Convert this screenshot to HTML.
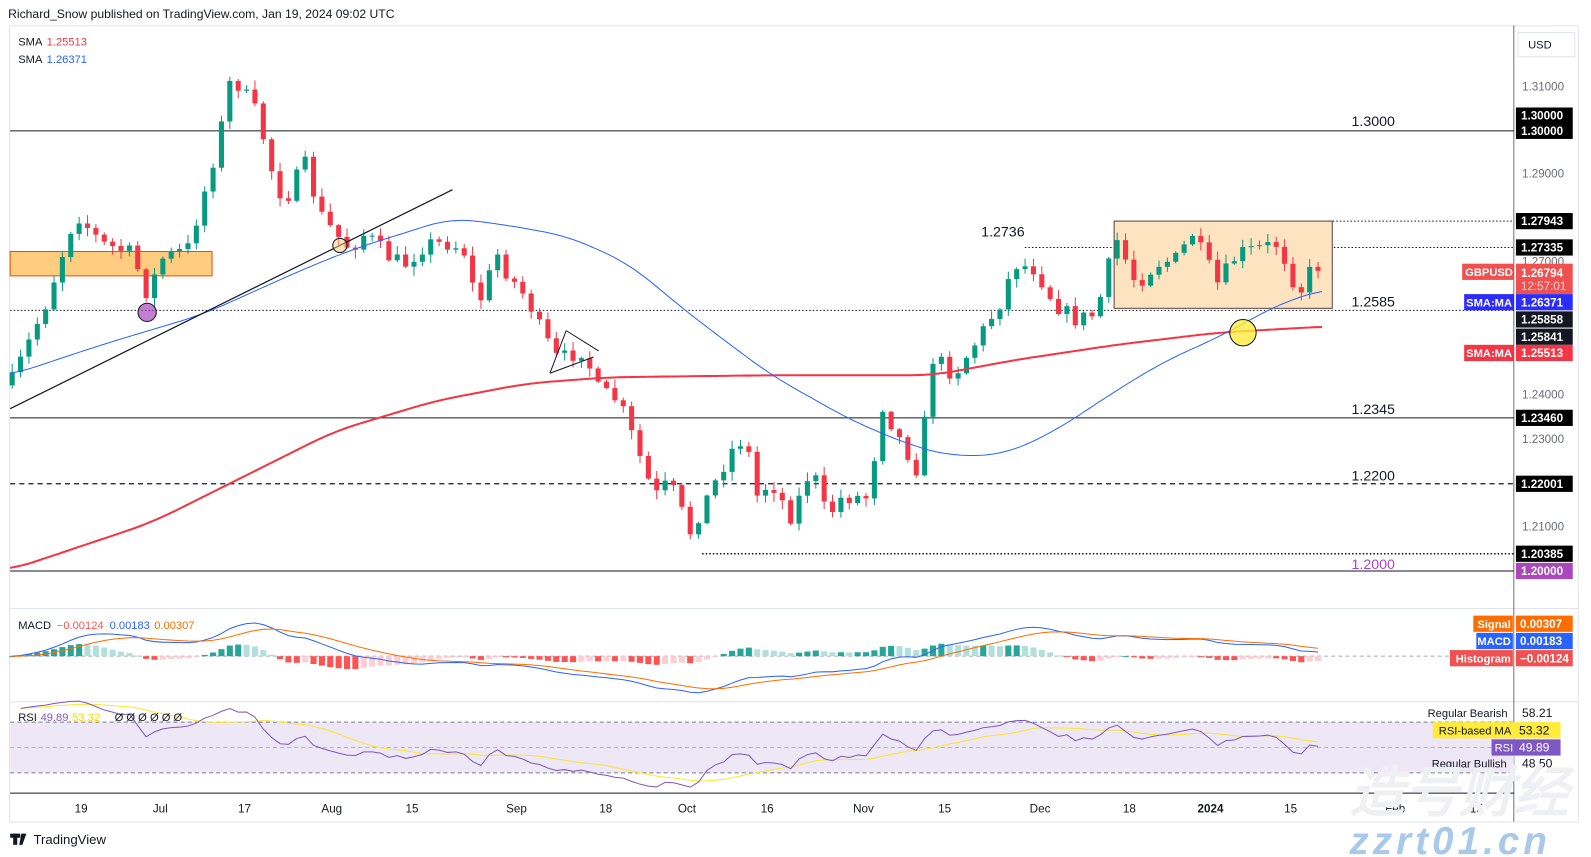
<!DOCTYPE html>
<html><head><meta charset="utf-8">
<style>
html,body{margin:0;padding:0;background:#fff;overflow:hidden}
#w{width:1568px;height:845px;transform:scale(1.01467,1.0142);transform-origin:0 0;position:relative;font-family:"Liberation Sans",sans-serif}
svg text{font-family:"Liberation Sans",sans-serif}
</style></head><body>
<div id="w">
<svg id="s" width="1568" height="845" xmlns="http://www.w3.org/2000/svg"></svg>
</div>
<script>
const S=document.getElementById('s');let h='';
function add(t){h+=t;}
function ln(x1,y1,x2,y2,c,w,d){add(`<line x1="${x1}" y1="${y1}" x2="${x2}" y2="${y2}" stroke="${c}" stroke-width="${w||1}" ${d?`stroke-dasharray="${d}"`:''}/>`);}
function tx(x,y,t,c,sz,anc,wt){add(`<text x="${x}" y="${y}" fill="${c}" font-size="${sz||12}" ${anc?`text-anchor="${anc}"`:''} ${wt?`font-weight="${wt}"`:''}>${t}</text>`);}
function rc(x,y,w,hh,f,st){add(`<rect x="${x}" y="${y}" width="${w}" height="${hh}" fill="${f}" ${st?`stroke="${st}"`:''}/>`);}
function interp(pts,x){if(x<=pts[0][0])return pts[0][1];for(let i=1;i<pts.length;i++){if(x<=pts[i][0]){const a=pts[i-1],b=pts[i];return a[1]+(b[1]-a[1])*(x-a[0])/(b[0]-a[0]);}}return pts[pts.length-1][1];}
function poly(pts,c,w){add(`<polyline fill="none" stroke="${c}" stroke-width="${w}" points="${pts.map(p=>p[0].toFixed(1)+','+p[1].toFixed(1)).join(' ')}"/>`);}
function smooth(pts){const o=[];for(let x=pts[0][0];x<=pts[pts.length-1][0];x+=3){let s=0,n=0;for(let d=-24;d<=24;d+=3){const xx=Math.min(Math.max(x+d,pts[0][0]),pts[pts.length-1][0]);s+=interp(pts,xx);n++;}o.push([x,s/n]);}return o;}
tx(8,18,'Richard_Snow published on TradingView.com, Jan 19, 2024 09:02 UTC','#131722',12);
rc(9.5,25.5,1546,785,'none','#e0e3eb');
ln(10,600,1555,600,'#e0e3eb');ln(10,692,1555,692,'#e0e3eb');ln(10,782,1492,782,'#131722');
ln(1492,25,1492,810,'#131722',0.6);
rc(1496,32,56,24,'#fff','#e0e3eb');tx(1506,48,'USD','#131722',11);
[[85,'1.31000'],[171,'1.29000'],[258,'1.27000'],[389,'1.24000'],[433,'1.23000'],[519,'1.21000']].forEach(a=>tx(1500,a[0]+4,a[1],'#6a6d78',11.5));
ln(10,129,1492,129,'#131722',1);
ln(1310,218,1492,218,'#131722',1,'1.5 2');
ln(1010,244,1492,244,'#131722',1,'1.5 2');
ln(10,306,1492,306,'#131722',1,'1.5 2');
ln(10,412,1492,412,'#131722',1);
ln(10,477,1492,477,'#131722',1.2,'5 4');
ln(692,546,1492,546,'#131722',1.5,'1.5 2');
ln(10,563,1492,563,'#131722',1);
tx(1332,124,'1.3000','#131722',14);
tx(967,233,'1.2736','#131722',14);
tx(1332,302,'1.2585','#131722',14);
tx(1332,408,'1.2345','#131722',14);
tx(1332,474,'1.2200','#131722',14);
tx(1332,561,'1.2000','#ab47bc',14);
rc(10,248,199,24,'#ffcc80','#e65100');
rc(1098,218,215,86,'#fde3c0','#5d4037');
const path=[[12,375],[45,300],[75,210],[100,240],[130,250],[145,290],[160,255],[185,245],[200,195],[215,140],[228,75],[240,90],[255,115],[265,160],[280,200],[300,160],[315,210],[330,230],[345,245],[360,230],[385,255],[400,260],[420,240],[445,240],[460,250],[470,305],[490,250],[500,270],[520,295],[535,330],[550,355],[575,345],[590,385],[610,395],[625,435],[645,490],[660,475],[680,525],[700,485],[720,445],[735,430],[745,490],[760,475],[780,510],[800,460],[815,510],[830,490],[855,490],[870,400],[885,430],[905,465],[920,350],[940,370],[960,340],[985,300],[1000,260],[1020,265],[1040,300],[1060,315],[1080,310],[1100,235],[1120,280],[1140,260],[1160,255],[1175,230],[1200,280],[1220,250],[1240,245],[1260,240],[1280,290],[1295,260],[1305,265]];
let seed=7;function rnd(){seed=(seed*16807)%2147483647;return seed/2147483647;}
let prev=380,closes=[];
for(let i=0;;i++){const x=12+i*8.25;if(x>1306)break;let c=interp(path,x)+(rnd()-0.5)*16;if(x>1300)c=265;
 const o=prev;const hi=Math.min(o,c)-rnd()*8-1,lo=Math.max(o,c)+rnd()*8+1;const col=c<o?'#089981':'#f23645';
 ln(x,hi,x,lo,col,1);rc(x-2.5,Math.min(o,c),5,Math.max(1,Math.abs(c-o)),col);prev=c;closes.push([x,c]);}
poly(smooth([[10,562],[150,515],[230,475],[330,425],[430,395],[520,378],[600,372],[760,370],[920,370],[1000,355],[1100,340],[1200,328],[1305,322]]),'#f23645',2);
poly(smooth([[10,370],[100,340],[200,310],[300,265],[350,245],[445,215],[500,222],[560,233],[620,260],[680,310],[760,370],[840,415],[900,440],[940,450],[990,448],[1040,425],[1100,385],[1150,355],[1200,333],[1260,300],[1305,285]]),'#2962ff',1);
ln(10,403,446,187,'#131722',1.2);
ln(558,326,590,346,'#131722',1);ln(542,368,585,352,'#131722',1);ln(558,326,542,368,'#131722',1);
add('<circle cx="145" cy="308" r="9" fill="#ab47bc" fill-opacity="0.7" stroke="#131722"/>');
add('<circle cx="335" cy="242" r="7" fill="#ffcc80" fill-opacity="0.5" stroke="#131722"/>');
add('<circle cx="1225" cy="328" r="13" fill="#ffeb3b" fill-opacity="0.8" stroke="#131722"/>');
tx(18,45,'SMA','#131722',11);tx(46,45,'1.25513','#f23645',11);
tx(18,62,'SMA','#131722',11);tx(46,62,'1.26371','#2962ff',11);
function lab(y,t,bg,fg){rc(1494,y-8,56,16,bg);tx(1499,y+4,t,fg||'#fff',11.5,'','bold');}
lab(129,'1.30000','#000');lab(114,'1.30000','#000');lab(218,'1.27943','#000');lab(244,'1.27335','#000');
rc(1494,260,56,30,'#f05050');tx(1499,273,'1.26794','#fff',11.5,'','bold');tx(1499,286,'12:57:01','#ffd0d0',11.5);
lab(298,'1.26371','#2c2cff');lab(315,'1.25858','#131722');lab(332,'1.25841','#131722');lab(348,'1.25513','#f23645');
lab(412,'1.23460','#000');lab(477,'1.22001','#000');lab(546,'1.20385','#000');lab(563,'1.20000','#ab47bc');
rc(1441,260,51,16,'#f05050');tx(1444,272,'GBPUSD','#fff',11,'','bold');
rc(1443,290,49,16,'#2c2cff');tx(1445,302,'SMA:MA','#fff',11,'','bold');
rc(1443,340,49,16,'#f23645');tx(1445,352,'SMA:MA','#fff',11,'','bold');
const P=closes.map(c=>-c[1]);function ema(a,n){const k=2/(n+1);let e=a[0];return a.map(v=>e=v*k+e*(1-k));}
const e12=ema(P,12),e26=ema(P,26);const m=P.map((v,i)=>e12[i]-e26[i]);const sg=ema(m,9);
let mx=0;m.forEach(v=>mx=Math.max(mx,Math.abs(v)));const sc=36/mx;const z=647;
ln(10,z,1492,z,'#b2b5be',1,'4 3');
m.forEach((v,i)=>{const hv=v-sg[i],pv=i?m[i-1]-sg[i-1]:0;const col=hv>=0?(hv>=pv?'#26a69a':'#b2dfdb'):(hv<pv?'#ff5252':'#ffcdd2');const yy=z-hv*sc*1.3;rc(closes[i][0]-3,Math.min(z,yy),6,Math.max(1,Math.abs(yy-z)),col);});
poly(m.map((v,i)=>[closes[i][0],z-v*sc]),'#2962ff',1);
poly(sg.map((v,i)=>[closes[i][0],z-v*sc]),'#ff6d00',1);
tx(18,620,'MACD','#131722',11);tx(56,620,'−0.00124','#ff5252',11);tx(108,620,'0.00183','#2962ff',11);tx(152,620,'0.00307','#ff6d00',11);
function lab2(y,n,t,bg,nx){rc(nx,y-8,1492-nx-1,16,bg);tx(1489,y+4,n,'#fff',11,'end','bold');rc(1494,y-8,56,16,bg);tx(1498,y+4,t,'#fff',11.5,'','bold');}
lab2(615,'Signal','0.00307','#ff6d00',1452);lab2(632,'MACD','0.00183','#2962ff',1455);lab2(649,'Histogram','−0.00124','#f05050',1429);
rc(10,712,1482,50,'#ede7f6');
ln(10,712,1492,712,'#787b86',1,'4 3');ln(10,737,1492,737,'#b2b5be',1,'4 3');ln(10,762,1492,762,'#787b86',1,'4 3');
let ag=0,al=0;for(let i=1;i<=14;i++){const d=P[i]-P[i-1];ag+=Math.max(d,0)/14;al+=Math.max(-d,0)/14;}
const rs=[];for(let i=1;i<P.length;i++){const d=P[i]-P[i-1];ag=(ag*13+Math.max(d,0))/14;al=(al*13+Math.max(-d,0))/14;let r=100-100/(1+ag/(al||1e-6));r=50+(r-50)*0.85;rs.push([closes[i][0],r]);}
const rma=[];rs.forEach((r,i)=>{let s=0,n=0;for(let j=Math.max(0,i-13);j<=i;j++){s+=rs[j][1];n++;}rma.push([r[0],s/n]);});
function ry(v){return 737-(v-50)*1.25;}
poly(rma.map(r=>[r[0],ry(r[1])]),'#ffe62e',1);
poly(rs.map(r=>[r[0],ry(r[1])]),'#7e57c2',1);
tx(18,711,'RSI','#131722',11);tx(40,711,'49.89','#7e57c2',11);tx(71,711,'53.32','#ffd600',11);tx(113,711,'Ø  Ø  Ø  Ø  Ø  Ø','#131722',11);
tx(1407,707,'Regular Bearish','#131722',11);tx(1500,707,'58.21','#131722',12);
rc(1412,712,80,16,'#ffeb3b');tx(1418,724,'RSI-based MA','#131722',11);rc(1492,712,46,16,'#ffeb3b');tx(1497,724,'53.32','#131722',12);
rc(1470,729,22,16,'#7e57c2');tx(1473,741,'RSI','#fff',11);rc(1492,729,46,16,'#7e57c2');tx(1497,741,'49.89','#fff',12);
tx(1411,757,'Regular Bullish','#131722',11);tx(1500,757,'48.50','#131722',12);
[[80,'19'],[158,'Jul'],[241,'17'],[327,'Aug'],[406,'15'],[509,'Sep'],[597,'18'],[677,'Oct'],[756,'16'],[851,'Nov'],[931,'15'],[1025,'Dec'],[1113,'18'],[1272,'15'],[1375,'Feb'],[1455,'15']].forEach(a=>tx(a[0],801,a[1],'#131722',11.5,'middle'));
tx(1193,801,'2024','#131722',11.5,'middle','bold');
rc(10,822,10,4,'#131722');rc(13,822,4,11,'#131722');add('<polygon points="21,822 26,822 22,833 19,833" fill="#131722"/>');
tx(33,832,'TradingView','#131722',13);
add('<text x="1330" y="800" fill="#eef0f3" font-size="54" font-weight="bold" font-style="italic" font-family="Noto Sans CJK SC, sans-serif">造号财经</text>');
add('<text x="1330" y="842" fill="#a9c9ea" font-size="38" font-weight="bold" font-style="italic" letter-spacing="4">zzrt01.cn</text>');
S.innerHTML=h;
</script>
</body></html>
